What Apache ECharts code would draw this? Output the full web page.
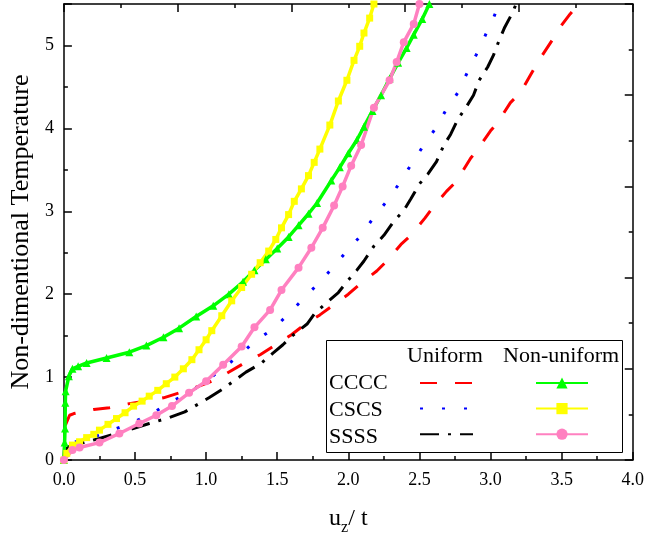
<!DOCTYPE html>
<html>
<head>
<meta charset="utf-8">
<script src="https://cdn.jsdelivr.net/npm/echarts@6/dist/echarts.min.js"></script>
<style>html,body{margin:0;padding:0;background:#fff;}#c{width:647px;height:541px;}</style>
</head>
<body>
<div id="c"></div>
<script>
// ---- data (x = u_z/t, y = non-dimensional temperature) ----
const ccccUniform = [[0,0],[0.005,0.2],[0.01,0.42],[0.04,0.54],[0.07,0.56],[0.21,0.61],[0.32,0.63],[0.46,0.68],[0.57,0.71],[0.7,0.75],[0.81,0.81],[0.95,0.89],[1.07,0.97],[1.25,1.15],[1.38,1.27],[1.47,1.37],[1.6,1.51],[1.69,1.63],[1.8,1.75],[1.88,1.85],[2.0,2.0],[2.08,2.12],[2.2,2.28],[2.27,2.4],[2.37,2.6],[2.44,2.71],[2.54,2.92],[2.6,3.06],[2.69,3.24],[2.76,3.36],[2.86,3.64],[2.91,3.75],[3.0,3.97],[3.05,4.07],[3.14,4.31],[3.21,4.43],[3.28,4.64],[3.34,4.82],[3.44,5.08],[3.48,5.2],[3.56,5.38],[3.62,5.5]];
const cscsUniform = [[0,0],[0.03,0.12],[0.06,0.21],[0.2,0.27],[0.34,0.36],[0.48,0.45],[0.62,0.56],[0.74,0.69],[0.88,0.81],[1.0,0.95],[1.12,1.11],[1.24,1.27],[1.34,1.43],[1.47,1.58],[1.58,1.76],[1.68,1.94],[1.79,2.13],[1.89,2.32],[1.99,2.52],[2.09,2.71],[2.18,2.93],[2.27,3.12],[2.36,3.34],[2.44,3.56],[2.52,3.77],[2.61,3.99],[2.68,4.2],[2.77,4.43],[2.83,4.65],[2.9,4.89],[2.96,5.11],[3.02,5.33],[3.06,5.5]];
const ssssUniform = [[0,0],[0.02,0.14],[0.05,0.18],[0.14,0.21],[0.25,0.26],[0.37,0.32],[0.51,0.39],[0.6,0.44],[0.74,0.51],[0.85,0.58],[1.02,0.75],[1.12,0.86],[1.28,1.06],[1.39,1.17],[1.47,1.29],[1.54,1.39],[1.6,1.49],[1.71,1.64],[1.76,1.76],[1.83,1.87],[1.93,2.02],[1.99,2.15],[2.06,2.29],[2.11,2.4],[2.18,2.58],[2.25,2.71],[2.32,2.88],[2.39,3.01],[2.44,3.15],[2.5,3.33],[2.56,3.45],[2.62,3.6],[2.67,3.79],[2.72,3.93],[2.77,4.11],[2.83,4.26],[2.88,4.4],[2.92,4.58],[2.98,4.74],[3.02,4.88],[3.06,5.06],[3.1,5.22],[3.15,5.38],[3.18,5.5]];
const ccccNonUniform = [[0,0],[0.005,0.21],[0.008,0.38],[0.01,0.69],[0.012,0.83],[0.035,1.01],[0.06,1.1],[0.1,1.13],[0.16,1.17],[0.3,1.23],[0.46,1.3],[0.58,1.38],[0.7,1.48],[0.81,1.59],[0.93,1.73],[1.05,1.86],[1.16,2.0],[1.26,2.15],[1.34,2.29],[1.42,2.42],[1.5,2.55],[1.58,2.69],[1.65,2.83],[1.72,2.97],[1.78,3.1],[1.88,3.37],[1.94,3.53],[2.0,3.7],[2.06,3.86],[2.11,4.02],[2.17,4.21],[2.23,4.4],[2.29,4.6],[2.35,4.79],[2.41,4.97],[2.46,5.13],[2.52,5.32],[2.57,5.5]];
const cscsNonUniform = [[0,0],[0.02,0.08],[0.06,0.18],[0.11,0.22],[0.16,0.27],[0.21,0.31],[0.25,0.36],[0.31,0.43],[0.37,0.5],[0.43,0.57],[0.49,0.65],[0.55,0.71],[0.6,0.77],[0.66,0.84],[0.72,0.92],[0.78,1.0],[0.84,1.1],[0.9,1.21],[0.95,1.33],[1.0,1.45],[1.04,1.56],[1.11,1.74],[1.18,1.92],[1.25,2.08],[1.32,2.24],[1.38,2.38],[1.44,2.52],[1.49,2.66],[1.53,2.8],[1.58,2.96],[1.62,3.12],[1.67,3.27],[1.72,3.43],[1.76,3.59],[1.8,3.75],[1.87,4.04],[1.93,4.33],[1.99,4.58],[2.04,4.82],[2.08,4.99],[2.11,5.15],[2.15,5.33],[2.18,5.5]];
const ssssNonUniform = [[0,0],[0.06,0.12],[0.11,0.15],[0.25,0.21],[0.39,0.32],[0.53,0.44],[0.65,0.54],[0.76,0.65],[0.88,0.81],[1.0,0.95],[1.12,1.15],[1.25,1.37],[1.34,1.6],[1.45,1.81],[1.53,2.05],[1.65,2.32],[1.74,2.56],[1.82,2.8],[1.9,3.07],[1.96,3.3],[2.02,3.55],[2.09,3.8],[2.18,4.25],[2.29,4.58],[2.34,4.8],[2.39,5.04],[2.46,5.26],[2.5,5.5]];

const rowLabels = ['CCCC', 'CSCS', 'SSSS'];
const colHeads = ['Uniform', 'Non-uniform'];
const xTitle = 'u{sub|z}/ t';
const yTitle = 'Non-dimentional Temperature';

const FONT = 'Liberation Serif';
const chart = echarts.init(document.getElementById('c'), null, {renderer: 'canvas'});

function axisCommon(extra) {
  return Object.assign({
    type: 'value',
    axisLine: {show: true, onZero: false, lineStyle: {color: '#000', width: 1.5}},
    axisTick: {show: true, inside: true, length: 8, lineStyle: {color: '#000', width: 1.5}},
    minorTick: {show: true, splitNumber: 2, length: 4, lineStyle: {color: '#000', width: 1.5}},
    splitLine: {show: false},
    minorSplitLine: {show: false}
  }, extra);
}

const uniformStyle = (color, dash) => ({
  type: 'line', showSymbol: false, symbol: 'none', smooth: false,
  lineStyle: {color: color, width: 3, type: dash, cap: 'butt'},
  itemStyle: {color: color}, z: 3
});
const nonUniformStyle = (color, symbol, size) => ({
  type: 'line', symbol: symbol, symbolSize: size, showSymbol: true,
  lineStyle: {color: color, width: 3.5},
  itemStyle: {color: color}, z: 4
});

const series = [
  Object.assign({name: 'CCCC Uniform', data: ccccUniform}, uniformStyle('#ff0000', [17, 18])),
  Object.assign({name: 'CSCS Uniform', data: cscsUniform}, uniformStyle('#0000ff', [3, 19])),
  Object.assign({name: 'SSSS Uniform', data: ssssUniform}, uniformStyle('#000000', [19, 9, 3, 9])),
  Object.assign({name: 'CCCC Non-uniform', data: ccccNonUniform}, nonUniformStyle('#00ff00', 'triangle', 8)),
  Object.assign({name: 'CSCS Non-uniform', data: cscsNonUniform}, nonUniformStyle('#ffff00', 'rect', 7)),
  Object.assign({name: 'SSSS Non-uniform', data: ssssNonUniform}, nonUniformStyle('#ff80c0', 'circle', 8))
];

const txt = {fontFamily: FONT, fontSize: 22, fill: '#000'};

chart.setOption({
  animation: false,
  backgroundColor: '#fff',
  grid: {left: 61, width: 572, top: 4, height: 461, containLabel: false},
  xAxis: [
    axisCommon({
      min: 0, max: 4, interval: 0.5, position: 'bottom',
      name: xTitle, nameLocation: 'middle', nameGap: 42,
      nameTextStyle: {fontFamily: FONT, fontSize: 24, color: '#000', lineHeight: 34,
        rich: {sub: {fontFamily: FONT, fontSize: 16, color: '#000', verticalAlign: 'bottom', lineHeight: 16}}},
      axisLabel: {fontFamily: FONT, fontSize: 18, color: '#000', margin: 11,
        formatter: v => v.toFixed(1)}
    }),
    axisCommon({
      min: 0, max: 4, interval: 0.8, position: 'top',
      axisLabel: {show: false}
    })
  ],
  yAxis: [
    axisCommon({
      min: 0, max: 5.5, interval: 1, position: 'left',
      name: yTitle, nameLocation: 'middle', nameGap: 22, nameRotate: 90,
      nameTextStyle: {fontFamily: FONT, fontSize: 26, color: '#000'},
      axisLabel: {fontFamily: FONT, fontSize: 18, color: '#000', margin: 10,
        formatter: v => (Math.abs(v - Math.round(v)) < 1e-9 ? String(Math.round(v)) : '')}
    }),
    axisCommon({
      min: 0, max: 5.5, interval: 1.1, position: 'right',
      axisLabel: {show: false}
    })
  ],
  legend: [
    {
      data: series.slice(0, 3).map(s => s.name),
      orient: 'vertical', left: 419, top: 376, itemWidth: 53, itemHeight: 14, itemGap: 13,
      itemStyle: {opacity: 0},
      formatter: () => '', selectedMode: false, padding: 0, z: 10
    },
    {
      data: series.slice(3).map(s => s.name),
      orient: 'vertical', left: 535, top: 376, itemWidth: 52, itemHeight: 14, itemGap: 13,
      formatter: () => '', selectedMode: false, padding: 0, z: 10
    }
  ],
  graphic: [
    {type: 'rect', shape: {x: 326.5, y: 340.5, width: 296, height: 112},
      style: {fill: '#fff', stroke: '#000', lineWidth: 1}, z: 5},
    {type: 'text', x: 407, y: 356, style: Object.assign({text: colHeads[0], verticalAlign: 'middle'}, txt), z: 6},
    {type: 'text', x: 503, y: 356, style: Object.assign({text: colHeads[1], verticalAlign: 'middle'}, txt), z: 6},
    {type: 'text', x: 329, y: 383, style: Object.assign({text: rowLabels[0], verticalAlign: 'middle'}, txt), z: 6},
    {type: 'text', x: 329, y: 410, style: Object.assign({text: rowLabels[1], verticalAlign: 'middle'}, txt), z: 6},
    {type: 'text', x: 329, y: 437, style: Object.assign({text: rowLabels[2], verticalAlign: 'middle'}, txt), z: 6}
  ],
  series: series
});
</script>
</body>
</html>
